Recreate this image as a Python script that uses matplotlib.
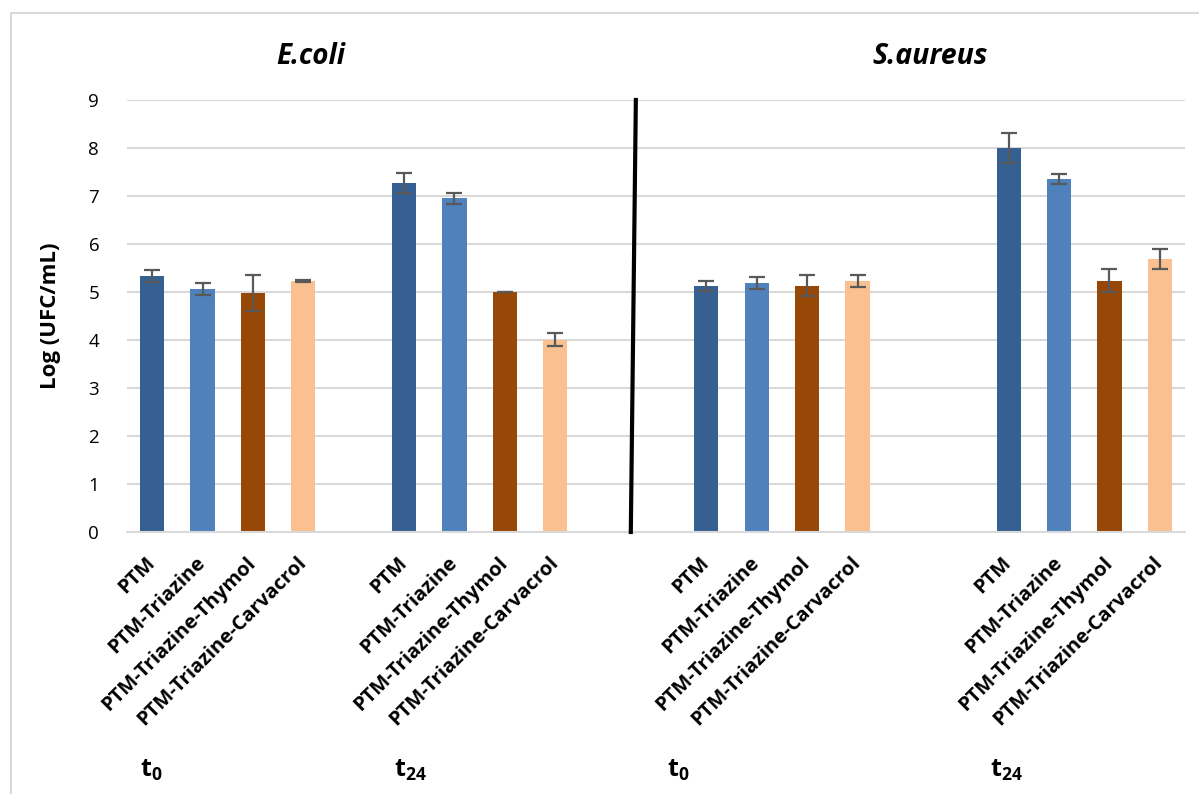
import matplotlib
matplotlib.use("Agg")
import matplotlib.pyplot as plt
from matplotlib.lines import Line2D

plt.rcParams['font.family'] = ['Open Sans', 'DejaVu Sans']
plt.rcParams['mathtext.fontset'] = 'custom'
plt.rcParams['mathtext.bf'] = 'Open Sans:bold'
plt.rcParams['mathtext.rm'] = 'Open Sans'

## data
samples = ['PTM', 'PTM-Triazine', 'PTM-Triazine-Thymol', 'PTM-Triazine-Carvacrol']
colors = ['#366092', '#4F81BD', '#974706', '#FAC090']

ecoli_t0 = [5.33, 5.06, 4.98, 5.23]
ecoli_t0_err = [0.12, 0.12, 0.37, 0.02]
ecoli_t24 = [7.27, 6.95, 5.00, 4.01]
ecoli_t24_err = [0.20, 0.12, 0.01, 0.13]
saureus_t0 = [5.13, 5.19, 5.13, 5.23]
saureus_t0_err = [0.10, 0.12, 0.22, 0.12]
saureus_t24 = [8.00, 7.35, 5.23, 5.69]
saureus_t24_err = [0.32, 0.10, 0.24, 0.21]

# slot where each group of four bars starts (empty slots in between)
group_start = [0, 5, 11, 17]
n_slots = 21

fig = plt.figure(figsize=(11.99, 7.94), dpi=100)
ax = fig.add_axes([127/1199, 1 - 532/794, 1058/1199, 432/794])

groups = [(ecoli_t0, ecoli_t0_err), (ecoli_t24, ecoli_t24_err),
          (saureus_t0, saureus_t0_err), (saureus_t24, saureus_t24_err)]
xticks = []
xlabels = []
for start, (vals, errs) in zip(group_start, groups):
    xs = [start + i for i in range(len(vals))]
    ax.bar(xs, vals, width=0.48, color=colors, zorder=2)
    ax.errorbar(xs, vals, yerr=errs, fmt='none', ecolor='#595959',
                elinewidth=1.6, capsize=6, capthick=1.6, zorder=3)
    xticks += xs
    xlabels += samples

ax.set_xlim(-0.5, n_slots - 0.5)
ax.set_ylim(0, 9)
ax.set_yticks(range(0, 10))
ax.yaxis.grid(True, color='#D9D9D9', linewidth=1.5, zorder=0)
ax.set_axisbelow(True)
for s in ['top', 'right', 'left']:
    ax.spines[s].set_visible(False)
ax.spines['bottom'].set_color('#D9D9D9')
ax.spines['bottom'].set_linewidth(1.5)
ax.tick_params(axis='both', length=0)
ax.tick_params(axis='y', labelsize=13.5, pad=20)
ax.set_xticks(xticks)
ax.set_xticklabels(xlabels, rotation=45, ha='right', va='center',
                   rotation_mode='anchor', fontsize=14.5, fontweight='bold')
ax.tick_params(axis='x', pad=20)
ax.set_ylabel('Log (UFC/mL)', fontsize=16, fontweight='bold', labelpad=20)

# separator between the two organisms
ax.plot([9.6, 9.5], [9, 0], color='black', linewidth=3, clip_on=False, zorder=4)

# titles and time labels
fig.text(311/1199, 1 - 57/794, 'E.coli', fontsize=20, fontweight='bold',
         fontstyle='italic', ha='center', va='center')
fig.text(930/1199, 1 - 57/794, 'S.aureus', fontsize=20.5, fontweight='bold',
         fontstyle='italic', ha='center', va='center')
for xpix, lab in zip([151, 410, 678, 1006], [r'$\mathbf{t}_\mathbf{0}$', r'$\mathbf{t}_\mathbf{24}$',
                                             r'$\mathbf{t}_\mathbf{0}$', r'$\mathbf{t}_\mathbf{24}$']):
    fig.text(xpix/1199, 1 - 770/794, lab, fontsize=18, ha='center', va='center')

# chart frame (top and left edges visible)
fig.add_artist(Line2D([11/1199, 1], [1 - 13/794, 1 - 13/794], color='#D9D9D9', linewidth=1.5))
fig.add_artist(Line2D([11/1199, 11/1199], [0, 1 - 13/794], color='#D9D9D9', linewidth=1.5))

fig.savefig('out.png', dpi=100)
